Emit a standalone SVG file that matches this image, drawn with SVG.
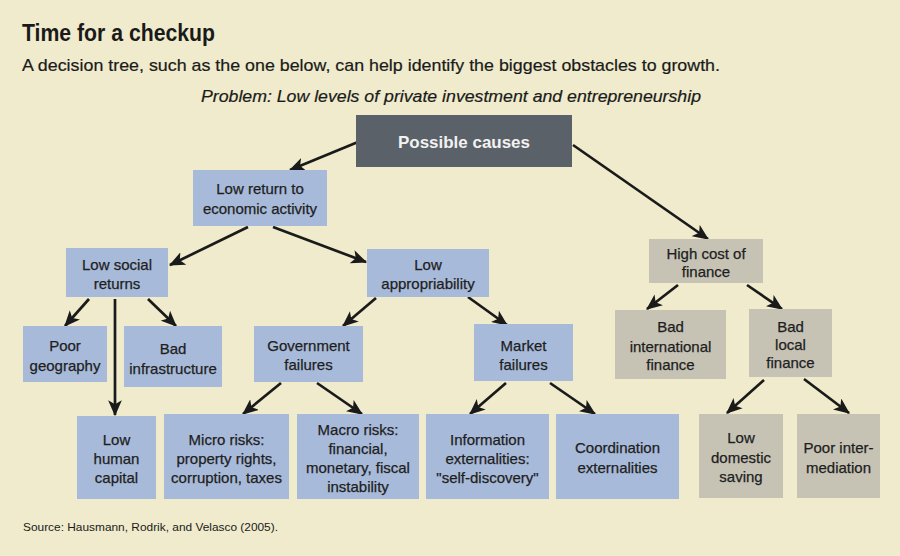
<svg xmlns="http://www.w3.org/2000/svg" width="900" height="556" viewBox="0 0 900 556">
<defs>
<style>
.t{font-family:"Liberation Sans",Arial,sans-serif;font-size:15px;fill:#1e1e1e;stroke:#1e1e1e;stroke-width:0.25;text-anchor:middle}
.b{fill:#a8bad9}
.g{fill:#c6c3b5}
.e{stroke:#1a1a1a;stroke-width:2.7;fill:none;marker-end:url(#ah)}
</style>
<marker id="ah" viewBox="0 0 14 12" refX="13" refY="6" markerWidth="16" markerHeight="14" markerUnits="userSpaceOnUse" orient="auto">
<path d="M0,0 L14,6 L0,12 L3.5,6 z" fill="#1a1a1a"/>
</marker>
</defs>
<rect width="900" height="556" fill="#efebcc"/>
<text x="22" y="41" font-family="'Liberation Sans',Arial,sans-serif" font-size="23" font-weight="bold" fill="#1a1a1a" textLength="193" lengthAdjust="spacingAndGlyphs">Time for a checkup</text>
<text x="22" y="71" font-family="'Liberation Sans',Arial,sans-serif" font-size="17" fill="#1a1a1a" stroke="#1a1a1a" stroke-width="0.2" textLength="698" lengthAdjust="spacingAndGlyphs">A decision tree, such as the one below, can help identify the biggest obstacles to growth.</text>
<text x="201" y="102" font-family="'Liberation Sans',Arial,sans-serif" font-size="17" font-style="italic" fill="#1a1a1a" stroke="#1a1a1a" stroke-width="0.2" textLength="500" lengthAdjust="spacingAndGlyphs">Problem: Low levels of private investment and entrepreneurship</text>

<g id="connectors">
<line class="e" x1="358" y1="142" x2="290" y2="170"/>
<line class="e" x1="573" y1="145" x2="708" y2="239"/>
<line class="e" x1="248" y1="227" x2="170" y2="265"/>
<line class="e" x1="273" y1="227" x2="366" y2="262"/>
<line class="e" x1="89" y1="299" x2="65" y2="326"/>
<line class="e" x1="115" y1="299" x2="115" y2="415"/>
<line class="e" x1="148" y1="299" x2="176" y2="326"/>
<line class="e" x1="376" y1="298" x2="343" y2="326"/>
<line class="e" x1="468" y1="297" x2="507" y2="325"/>
<line class="e" x1="281" y1="383" x2="243" y2="414"/>
<line class="e" x1="317" y1="383" x2="362" y2="414"/>
<line class="e" x1="506" y1="383" x2="470" y2="414"/>
<line class="e" x1="550" y1="383" x2="595" y2="414"/>
<line class="e" x1="678" y1="285" x2="647" y2="309"/>
<line class="e" x1="747" y1="285" x2="782" y2="309"/>
<line class="e" x1="764" y1="380" x2="727" y2="413"/>
<line class="e" x1="804" y1="379" x2="849" y2="413"/>
</g>

<g id="causes"><rect x="356" y="115" width="216" height="52" fill="#5b6168"/><text x="464" y="148" font-family="'Liberation Sans',Arial,sans-serif" font-size="17" font-weight="bold" fill="#f2f2f2" text-anchor="middle" textLength="132" lengthAdjust="spacingAndGlyphs">Possible causes</text></g>
<g id="lowreturn"><rect class="b" x="193" y="170" width="134" height="56"/><text class="t" x="260" y="194">Low return to</text><text class="t" x="260" y="214">economic activity</text></g>
<g id="socialreturns"><rect class="b" x="66" y="248" width="102" height="49"/><text class="t" x="117" y="270">Low social</text><text class="t" x="117" y="289">returns</text></g>
<g id="appropriability"><rect class="b" x="367" y="249" width="122" height="48"/><text class="t" x="428" y="270">Low</text><text class="t" x="428" y="289">appropriability</text></g>
<g id="geography"><rect class="b" x="23" y="326" width="84" height="56"/><text class="t" x="65" y="351">Poor</text><text class="t" x="65" y="371">geography</text></g>
<g id="infrastructure"><rect class="b" x="124" y="326" width="98" height="61"/><text class="t" x="173" y="354">Bad</text><text class="t" x="173" y="374">infrastructure</text></g>
<g id="humancapital"><rect class="b" x="77" y="416" width="79" height="83"/><text class="t" x="116.5" y="445">Low</text><text class="t" x="116.5" y="464">human</text><text class="t" x="116.5" y="483">capital</text></g>
<g id="govfailures"><rect class="b" x="254" y="326" width="109" height="56"/><text class="t" x="308.5" y="351">Government</text><text class="t" x="308.5" y="370">failures</text></g>
<g id="marketfailures"><rect class="b" x="474" y="324" width="99" height="57"/><text class="t" x="523.5" y="351">Market</text><text class="t" x="523.5" y="370">failures</text></g>
<g id="microrisks"><rect class="b" x="164" y="414" width="125" height="85"/><text class="t" x="226.5" y="445">Micro risks:</text><text class="t" x="226.5" y="464">property rights,</text><text class="t" x="226.5" y="483">corruption, taxes</text></g>
<g id="macrorisks"><rect class="b" x="297" y="414" width="122" height="85"/><text class="t" x="358" y="435">Macro risks:</text><text class="t" x="358" y="454">financial,</text><text class="t" x="358" y="473">monetary, fiscal</text><text class="t" x="358" y="492">instability</text></g>
<g id="infoext"><rect class="b" x="426" y="414" width="123" height="85"/><text class="t" x="487.5" y="445">Information</text><text class="t" x="487.5" y="464">externalities:</text><text class="t" x="487.5" y="483">"self-discovery"</text></g>
<g id="coordext"><rect class="b" x="556" y="414" width="123" height="85"/><text class="t" x="617.5" y="453">Coordination</text><text class="t" x="617.5" y="473">externalities</text></g>
<g id="highcost"><rect class="g" x="649" y="239" width="114" height="44"/><text class="t" x="706" y="259">High cost of</text><text class="t" x="706" y="277">finance</text></g>
<g id="badintl"><rect class="g" x="615" y="310" width="111" height="69"/><text class="t" x="670.5" y="332">Bad</text><text class="t" x="670.5" y="352">international</text><text class="t" x="670.5" y="370">finance</text></g>
<g id="badlocal"><rect class="g" x="749" y="309" width="83" height="68"/><text class="t" x="790.5" y="332">Bad</text><text class="t" x="790.5" y="350">local</text><text class="t" x="790.5" y="368">finance</text></g>
<g id="lowsaving"><rect class="g" x="699" y="414" width="84" height="84"/><text class="t" x="741" y="443">Low</text><text class="t" x="741" y="463">domestic</text><text class="t" x="741" y="482">saving</text></g>
<g id="poorinter"><rect class="g" x="797" y="414" width="83" height="84"/><text class="t" x="838.5" y="453">Poor inter-</text><text class="t" x="838.5" y="473">mediation</text></g>

<text x="23" y="531" font-family="'Liberation Sans',Arial,sans-serif" font-size="11" fill="#1a1a1a" textLength="255" lengthAdjust="spacingAndGlyphs">Source: Hausmann, Rodrik, and Velasco (2005).</text>
</svg>
